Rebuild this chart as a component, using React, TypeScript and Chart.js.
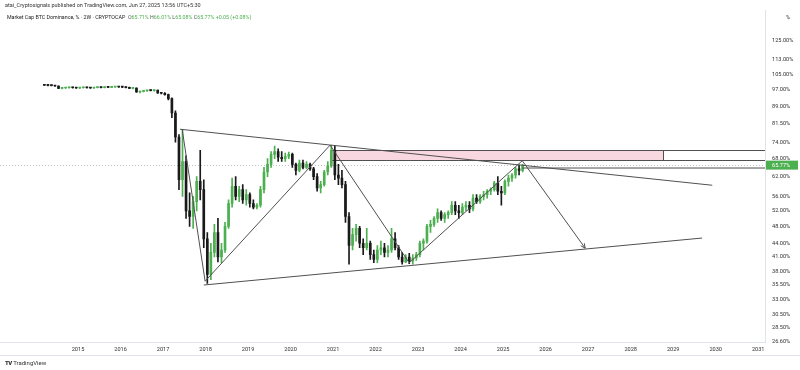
import React, { useEffect, useRef } from "react";
import { Chart, registerables } from "chart.js";

Chart.register(...registerables);

const months = [
  "2014-03","2014-04","2014-05","2014-06","2014-07","2014-08","2014-09","2014-10","2014-11","2014-12",
  "2015-01","2015-02","2015-03","2015-04","2015-05","2015-06","2015-07","2015-08","2015-09","2015-10","2015-11","2015-12",
  "2016-01","2016-02","2016-03","2016-04","2016-05","2016-06","2016-07","2016-08","2016-09","2016-10","2016-11","2016-12",
  "2017-01","2017-02","2017-03","2017-04","2017-05","2017-06","2017-07","2017-08","2017-09","2017-10","2017-11","2017-12",
  "2018-01","2018-02","2018-03","2018-04","2018-05","2018-06","2018-07","2018-08","2018-09","2018-10","2018-11","2018-12",
  "2019-01","2019-02","2019-03","2019-04","2019-05","2019-06","2019-07","2019-08","2019-09","2019-10","2019-11","2019-12",
  "2020-01","2020-02","2020-03","2020-04","2020-05","2020-06","2020-07","2020-08","2020-09","2020-10","2020-11","2020-12",
  "2021-01","2021-02","2021-03","2021-04","2021-05","2021-06","2021-07","2021-08","2021-09","2021-10","2021-11","2021-12",
  "2022-01","2022-02","2022-03","2022-04","2022-05","2022-06","2022-07","2022-08","2022-09","2022-10","2022-11","2022-12",
  "2023-01","2023-02","2023-03","2023-04","2023-05","2023-06","2023-07","2023-08","2023-09","2023-10","2023-11","2023-12",
  "2024-01","2024-02","2024-03","2024-04","2024-05","2024-06","2024-07","2024-08","2024-09","2024-10","2024-11","2024-12",
  "2025-01","2025-02","2025-03","2025-04","2025-05","2025-06"
];

const opens = [
  99.3,99.2,99.1,99.0,98.8,97.6,97.8,97.9,98.0,97.9,
  97.8,97.9,98.0,97.9,97.8,98.0,98.1,98.0,98.2,98.1,98.3,98.4,
  98.3,98.2,98.0,97.6,97.7,95.8,96.1,96.4,96.7,96.5,96.7,95.3,
  95.2,94.5,92.6,86.0,76.0,61.0,67.0,52.0,50.5,54.5,60.5,58.0,
  45.0,37.5,42.0,46.5,41.0,42.5,48.0,54.0,59.0,56.0,58.0,55.0,
  56.5,54.0,53.0,53.5,58.0,63.5,66.0,69.5,70.5,68.5,68.0,68.8,
  69.5,66.0,64.0,66.5,65.0,66.0,64.5,62.0,58.5,59.5,63.5,65.5,
  71.0,62.5,61.5,59.5,50.5,43.5,46.0,47.5,44.0,43.0,44.0,41.5,
  40.5,42.5,43.0,42.0,42.5,45.0,43.0,41.0,40.0,41.0,40.2,40.8,
  41.5,44.0,44.5,48.0,48.5,50.0,51.5,50.0,51.0,51.5,53.5,52.0,
  51.5,53.0,53.5,52.5,55.5,54.5,56.0,56.5,57.5,58.0,60.0,57.5,
  57.0,60.5,61.5,62.5,64.5,64.0
];

const highs = [
  99.5,99.4,99.3,99.2,98.9,98.0,98.1,98.2,98.2,98.1,
  98.1,98.2,98.2,98.1,98.1,98.3,98.3,98.4,98.4,98.5,98.6,98.6,
  98.5,98.4,98.2,97.9,97.9,96.3,96.6,96.8,96.9,96.9,96.8,95.7,
  95.5,94.8,93.0,87.0,77.0,79.0,69.0,57.0,56.0,62.0,71.0,61.0,
  46.5,44.0,48.5,50.0,44.0,49.0,55.0,61.5,62.0,59.0,59.5,58.0,
  57.0,55.0,54.0,59.0,65.0,68.0,70.5,72.5,71.5,70.5,70.0,70.3,
  70.0,66.5,67.5,67.5,67.0,66.5,65.0,63.0,60.5,64.0,67.0,72.8,
  72.5,66.0,64.0,60.5,51.5,47.5,48.5,48.0,45.0,47.5,44.5,42.5,
  43.5,44.5,44.0,43.5,47.5,46.5,43.5,42.0,41.5,41.8,41.5,42.0,
  44.5,45.0,48.5,49.5,50.5,52.5,52.0,51.5,52.0,54.5,54.5,53.5,
  54.0,54.5,54.5,56.5,56.5,56.5,57.5,58.0,58.5,60.5,62.0,59.0,
  61.0,62.5,63.0,65.0,65.8,66.01
];

const lows = [
  99.0,98.9,98.8,98.6,97.4,97.3,97.6,97.7,97.7,97.6,
  97.5,97.7,97.7,97.6,97.6,97.8,97.8,97.8,97.9,97.9,98.1,98.1,
  98.0,97.8,97.4,97.3,95.6,95.4,95.9,96.1,96.3,96.2,95.1,94.9,
  94.3,92.0,84.0,74.0,58.0,56.0,50.0,48.0,47.5,52.0,55.0,43.0,
  35.8,36.5,41.0,40.0,39.8,42.0,47.5,53.0,55.0,54.5,54.0,53.5,
  53.0,52.5,52.5,53.0,57.0,62.0,65.0,68.0,67.0,67.0,67.0,68.0,
  65.0,62.5,63.5,64.5,64.5,64.0,61.0,57.5,57.0,59.0,62.5,65.0,
  61.0,59.5,58.5,49.0,39.5,42.5,44.5,43.0,41.5,42.5,40.5,39.8,
  39.8,41.5,41.0,41.0,42.0,42.5,40.5,39.5,39.8,39.6,39.5,40.3,
  41.0,42.5,44.0,46.5,48.0,49.0,49.5,49.0,50.0,51.0,51.0,50.0,
  51.0,52.0,51.5,52.0,54.0,54.0,55.0,55.5,56.5,57.5,56.5,53.5,
  56.5,59.0,60.5,61.5,62.5,63.5
];

const closes = [
  99.2,99.1,99.0,98.8,97.6,97.8,97.9,98.0,97.9,97.8,
  97.9,98.0,97.9,97.8,98.0,98.1,98.0,98.2,98.1,98.3,98.4,98.3,
  98.2,98.0,97.6,97.7,95.8,96.1,96.4,96.7,96.5,96.7,95.3,95.2,
  94.5,92.6,86.0,76.0,61.0,67.0,52.0,50.5,54.5,60.5,58.0,45.0,
  37.5,42.0,46.5,41.0,42.5,48.0,54.0,59.0,56.0,58.0,55.0,56.5,
  54.0,53.0,53.5,58.0,63.5,66.0,69.5,70.5,68.5,68.0,68.8,69.5,
  66.0,64.0,66.5,65.0,66.0,64.5,62.0,58.5,59.5,63.5,65.5,71.0,
  62.5,61.5,59.5,50.5,43.5,46.0,47.5,44.0,43.0,44.0,41.5,40.5,
  42.5,43.0,42.0,42.5,45.0,43.0,41.0,40.0,41.0,40.2,40.8,41.5,
  44.0,44.5,48.0,48.5,50.0,51.5,50.0,51.0,51.5,53.5,52.0,51.5,
  53.0,53.5,52.5,55.5,54.5,56.0,56.5,57.5,58.0,60.0,57.5,57.0,
  60.5,61.5,62.5,64.5,64.0,65.77
];

const yearTicks = [2015,2016,2017,2018,2019,2020,2021,2022,2023,2024,2025,2026,2027,2028,2029,2030,2031];
const priceTicks = [26.6,28.5,30.5,33,35.5,38,41,44,48,52,56,62,68,74,81.5,89,97,105,113,125];
const lastPrice = 65.77;

const xRange = [2013.165, 2031.16];
const yRange = [26.48, 145.8];

const upperTrend = [{ x: 2017.40, y: 79.1 }, { x: 2029.92, y: 59.3 }];
const lowerTrend = [{ x: 2017.96, y: 35.5 }, { x: 2029.68, y: 45.2 }];
const zigzag = [
  { x: 2017.45, y: 79.1 },
  { x: 2017.99, y: 36.2 },
  { x: 2020.93, y: 72.9 },
  { x: 2022.79, y: 39.8 },
  { x: 2025.45, y: 67.3 },
  { x: 2026.93, y: 42.9 },
];
const levelLine = [{ x: 2025.45, y: 64.8 }, { x: 2031.16, y: 64.8 }];
const zoneX = [2020.93, 2028.76];
const zoneY = [67.5, 71.0];

const UP = "#4caf50";
const DOWN = "#1a1a1a";
const LINE = "#505050";

function toYear(m: string) {
  const [y, mo] = m.split("-").map(Number);
  return y + (mo - 0.5) / 12;
}

const overlayPlugin = {
  id: "overlay",
  beforeDatasetsDraw(chart: any) {
    const { ctx, chartArea, scales } = chart;
    const x = scales.x, y = scales.y;
    const x1 = Math.round(x.getPixelForValue(zoneX[0])) + 0.5;
    const x2 = Math.round(x.getPixelForValue(zoneX[1])) + 0.5;
    const yt = Math.round(y.getPixelForValue(zoneY[1])) + 0.5;
    const yb = Math.round(y.getPixelForValue(zoneY[0])) + 0.5;
    ctx.save();
    ctx.fillStyle = "rgba(247, 208, 220, 0.85)";
    ctx.fillRect(x1, yt, x2 - x1, yb - yt);
    const yp = Math.round(y.getPixelForValue(lastPrice)) + 0.5;
    ctx.strokeStyle = "rgba(120,120,120,0.45)";
    ctx.lineWidth = 1;
    ctx.setLineDash([1, 2]);
    ctx.beginPath();
    ctx.moveTo(chartArea.left, yp);
    ctx.lineTo(chartArea.right, yp);
    ctx.stroke();
    ctx.setLineDash([]);
    ctx.strokeStyle = LINE;
    ctx.beginPath();
    ctx.moveTo(x1, yt);
    ctx.lineTo(chartArea.right, yt);
    ctx.moveTo(x1, yb);
    ctx.lineTo(chartArea.right, yb);
    ctx.moveTo(x1, yt);
    ctx.lineTo(x1, yb);
    ctx.moveTo(x2, yt);
    ctx.lineTo(x2, yb);
    ctx.stroke();
    ctx.restore();
  },
  afterDraw(chart: any) {
    const { ctx, chartArea, scales } = chart;
    const x = scales.x, y = scales.y;
    ctx.save();
    const a = zigzag[zigzag.length - 2];
    const b = zigzag[zigzag.length - 1];
    const ax = x.getPixelForValue(a.x), ay = y.getPixelForValue(a.y);
    const bx = x.getPixelForValue(b.x), by = y.getPixelForValue(b.y);
    const ang = Math.atan2(by - ay, bx - ax);
    ctx.strokeStyle = LINE;
    ctx.lineWidth = 1;
    ctx.beginPath();
    ctx.moveTo(bx - 5 * Math.cos(ang - 0.45), by - 5 * Math.sin(ang - 0.45));
    ctx.lineTo(bx, by);
    ctx.lineTo(bx - 5 * Math.cos(ang + 0.45), by - 5 * Math.sin(ang + 0.45));
    ctx.stroke();
    ctx.strokeStyle = "#e0e3eb";
    ctx.beginPath();
    ctx.moveTo(0, chartArea.bottom + 13.5);
    ctx.lineTo(chart.width, chartArea.bottom + 13.5);
    ctx.stroke();
    const yp = y.getPixelForValue(lastPrice);
    ctx.fillStyle = UP;
    ctx.fillRect(chartArea.right + 1, yp - 4.5, 32, 9);
    ctx.fillStyle = "#ffffff";
    ctx.font = "5.6px Roboto, sans-serif";
    ctx.textBaseline = "middle";
    ctx.textAlign = "left";
    ctx.fillText(lastPrice.toFixed(2) + "%", chartArea.right + 7, yp + 0.5);
    ctx.restore();
  },
};

export default function App() {
  const ref = useRef<HTMLCanvasElement | null>(null);

  useEffect(() => {
    if (!ref.current) return;
    Chart.defaults.font.family = "Roboto, sans-serif";
    const xs = months.map(toYear);
    const colors = months.map((_, i) => (closes[i] >= opens[i] ? UP : DOWN));
    const lineDs = (data: any[], order = 0) => ({
      type: "line" as const,
      data,
      borderColor: LINE,
      borderWidth: 1,
      pointRadius: 0,
      fill: false,
      tension: 0,
      order,
    });
    const chart = new Chart(ref.current, {
      type: "bar",
      data: {
        datasets: [
          {
            type: "bar",
            data: xs.map((t, i) => ({ x: t, y: [lows[i], highs[i]] })) as any,
            backgroundColor: colors,
            barThickness: 1,
            grouped: false,
            order: 4,
          } as any,
          {
            type: "bar",
            data: xs.map((t, i) => ({
              x: t,
              y: [Math.min(opens[i], closes[i]), Math.max(opens[i], closes[i])],
            })) as any,
            backgroundColor: colors,
            barThickness: 2,
            minBarLength: 1,
            grouped: false,
            order: 3,
          } as any,
          lineDs(upperTrend),
          lineDs(lowerTrend),
          lineDs(zigzag),
          lineDs(levelLine),
        ],
      },
      options: {
        animation: false,
        responsive: false,
        events: [],
        layout: { padding: { top: 10, bottom: 14, left: 0, right: 0 } },
        plugins: { legend: { display: false }, tooltip: { enabled: false } },
        scales: {
          x: {
            type: "linear",
            position: "bottom",
            offset: false,
            min: xRange[0],
            max: xRange[1],
            bounds: "data",
            grid: { display: false, drawTicks: false },
            border: { display: true, color: "#e0e3eb" },
            afterBuildTicks: (s: any) => {
              s.ticks = yearTicks.map((v) => ({ value: v }));
            },
            afterFit: (s: any) => {
              s.height = 14;
            },
            ticks: {
              autoSkip: false,
              maxRotation: 0,
              padding: 4,
              color: "#333",
              font: { size: 5.6 },
              callback: (v: any) => String(v),
            },
          },
          y: {
            type: "logarithmic",
            position: "right",
            offset: false,
            min: yRange[0],
            max: yRange[1],
            bounds: "data",
            grid: { display: false, drawTicks: false },
            border: { display: true, color: "#e0e3eb" },
            afterBuildTicks: (s: any) => {
              s.ticks = priceTicks.map((v) => ({ value: v }));
            },
            afterFit: (s: any) => {
              s.width = 35;
            },
            ticks: {
              autoSkip: false,
              padding: 7,
              color: "#333",
              font: { size: 5.6 },
              callback: (v: any) => Number(v).toFixed(2) + "%",
            },
          },
        },
      } as any,
      plugins: [overlayPlugin],
    });
    return () => chart.destroy();
  }, []);

  const green = { color: UP };
  const gray = { color: "#555" };
  return (
    <div
      style={{
        position: "absolute",
        left: 0,
        top: 0,
        width: 800,
        height: 370,
        background: "#ffffff",
        fontFamily: "Roboto, sans-serif",
        overflow: "hidden",
      }}
    >
      <canvas ref={ref} width={800} height={370} style={{ position: "absolute", left: 0, top: 0 }} />
      <div style={{ position: "absolute", left: 5, top: 2, fontSize: 5.5, color: "#333", whiteSpace: "nowrap" }}>
        atai_Cryptosignals published on TradingView.com, Jun 27, 2025 13:56 UTC+5:30
      </div>
      <div style={{ position: "absolute", left: 7, top: 14, fontSize: 5.3, color: "#222", whiteSpace: "nowrap" }}>
        Market Cap BTC Dominance, % · 2W · CRYPTOCAP&nbsp;&nbsp;
        <span style={gray}>O</span><span style={green}>65.71%</span>&nbsp;
        <span style={gray}>H</span><span style={green}>66.01%</span>&nbsp;
        <span style={gray}>L</span><span style={green}>65.08%</span>&nbsp;
        <span style={gray}>C</span><span style={green}>65.77%</span>&nbsp;
        <span style={green}>+0.05 (+0.08%)</span>
      </div>
      <div style={{ position: "absolute", left: 786, top: 14, fontSize: 5.5, color: "#333" }}>%</div>
      <div style={{ position: "absolute", left: 5, top: 359, fontSize: 6, color: "#333", whiteSpace: "nowrap" }}>
        <span style={{ fontWeight: 900, letterSpacing: -0.5 }}>TV</span> TradingView
      </div>
    </div>
  );
}
